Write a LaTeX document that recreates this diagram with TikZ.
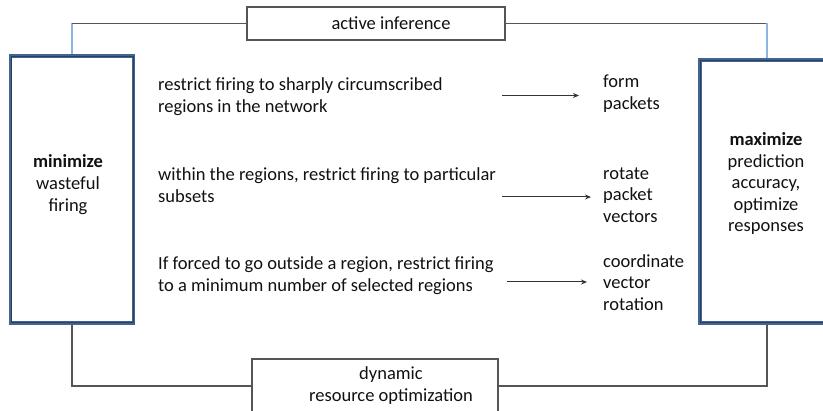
\documentclass[tikz,border=0pt]{standalone}
\usepackage{fontspec}
\setmainfont{Carlito}
\usetikzlibrary{arrows.meta,calc}
\definecolor{boxblue}{HTML}{3F6595}
\definecolor{boxedge}{HTML}{2E3F55}
\definecolor{linkblue}{HTML}{8DB3E2}
\definecolor{linkgrey}{HTML}{555555}
\definecolor{textc}{HTML}{111111}
\begin{document}
\begin{tikzpicture}[x=1pt,y=-1pt,
  txt/.style={font=\fontsize{18.5}{22}\selectfont, text=textc, inner sep=0pt, align=left, anchor=base west},
  rtxt/.style={font=\fontsize{18.5}{21.5}\selectfont, text=textc, inner sep=0pt, align=left, anchor=base west},
  ctxt/.style={font=\fontsize{18.5}{21.5}\selectfont, text=textc, inner sep=0pt, align=center, anchor=base},
  bigbox/.style={draw=boxblue, line width=3.5pt, inner sep=0pt},
  smallbox/.style={draw=linkgrey, line width=1.2pt, inner sep=0pt},
  link/.style={draw=linkgrey, line width=1.1pt},
  blink/.style={draw=linkblue, line width=1.3pt},
  arr/.style={draw=black!80, line width=1pt, -{Stealth[length=6pt,width=5pt]}}
]
\clip (0,0) rectangle (823,411);
\fill[white] (0,0) rectangle (823,411);

% main boxes
\node[bigbox, minimum width=123pt, minimum height=267pt] (minbox) at (72,189.5) {};
\node[bigbox, minimum width=134pt, minimum height=263pt] (maxbox) at (767,191.5) {};
\draw[boxedge, line width=0.5pt] ($(minbox.south west)+(2,-2)$) rectangle ($(minbox.north east)+(-2,2)$);
\draw[boxedge, line width=0.5pt] ($(maxbox.south west)+(2,-2)$) rectangle ($(maxbox.north east)+(-2,2)$);

\node[font=\fontsize{18.5}{22}\selectfont, text=textc, inner sep=0pt, align=center, anchor=base] (mintext) at (68,212) {\textbf{minimize}\\wasteful\\firing};
\node[ctxt] (maxtext) at (766,232) {\textbf{maximize}\\prediction\\accuracy,\\optimize\\responses};

% top and bottom boxes
\node[smallbox, minimum width=258pt, minimum height=33pt] (ai) at (376,23.5) {};
\node[ctxt] (aitext) at (391,29.5) {active inference};
\node[smallbox, minimum width=246pt, minimum height=60pt] (dro) at (375,389) {};
\node[ctxt] (drotext) at (391,401.5) {dynamic\\resource optimization};

% connectors
\coordinate (tl) at (minbox.north |- ai.west);
\coordinate (tr) at (maxbox.north |- ai.east);
\draw[blink] (minbox.north) -- (tl);
\draw[link] (tl) -- (ai.west);
\draw[link] (ai.east) -- (tr);
\draw[blink] (tr) -- (maxbox.north);
\coordinate (bl) at (minbox.south |- 0,386);
\coordinate (br) at (maxbox.south |- 0,386);
\draw[link] (minbox.south) -- (bl) -- (bl -| dro.west);
\draw[link] (br -| dro.east) -- (br) -- (maxbox.south);

% left texts
\node[txt] (l1) at (158,112.5) {restrict firing to sharply circumscribed\\regions in the network};
\node[txt] (l2) at (158,202.5) {within the regions, restrict firing to particular\\subsets};
\node[txt] (l3) at (158,291.5) {If forced to go outside a region, restrict firing\\to a minimum number of selected regions};

% right texts
\node[txt] (r1) at (603,110) {form\\packets};
\node[rtxt] (r2) at (603,222.5) {rotate\\packet\\vectors};
\node[rtxt] (r3) at (603,310.5) {coordinate\\vector\\rotation};

% arrows
\coordinate (s1) at (502,95.5);
\coordinate (s2) at (502,197);
\coordinate (s3) at (507,282);
\draw[arr] (s1) -- (s1 -| 579,0);
\draw[arr] (s2) -- (s2 -| 591,0);
\draw[arr] (s3) -- (s3 -| 587,0);
\end{tikzpicture}
\end{document}
